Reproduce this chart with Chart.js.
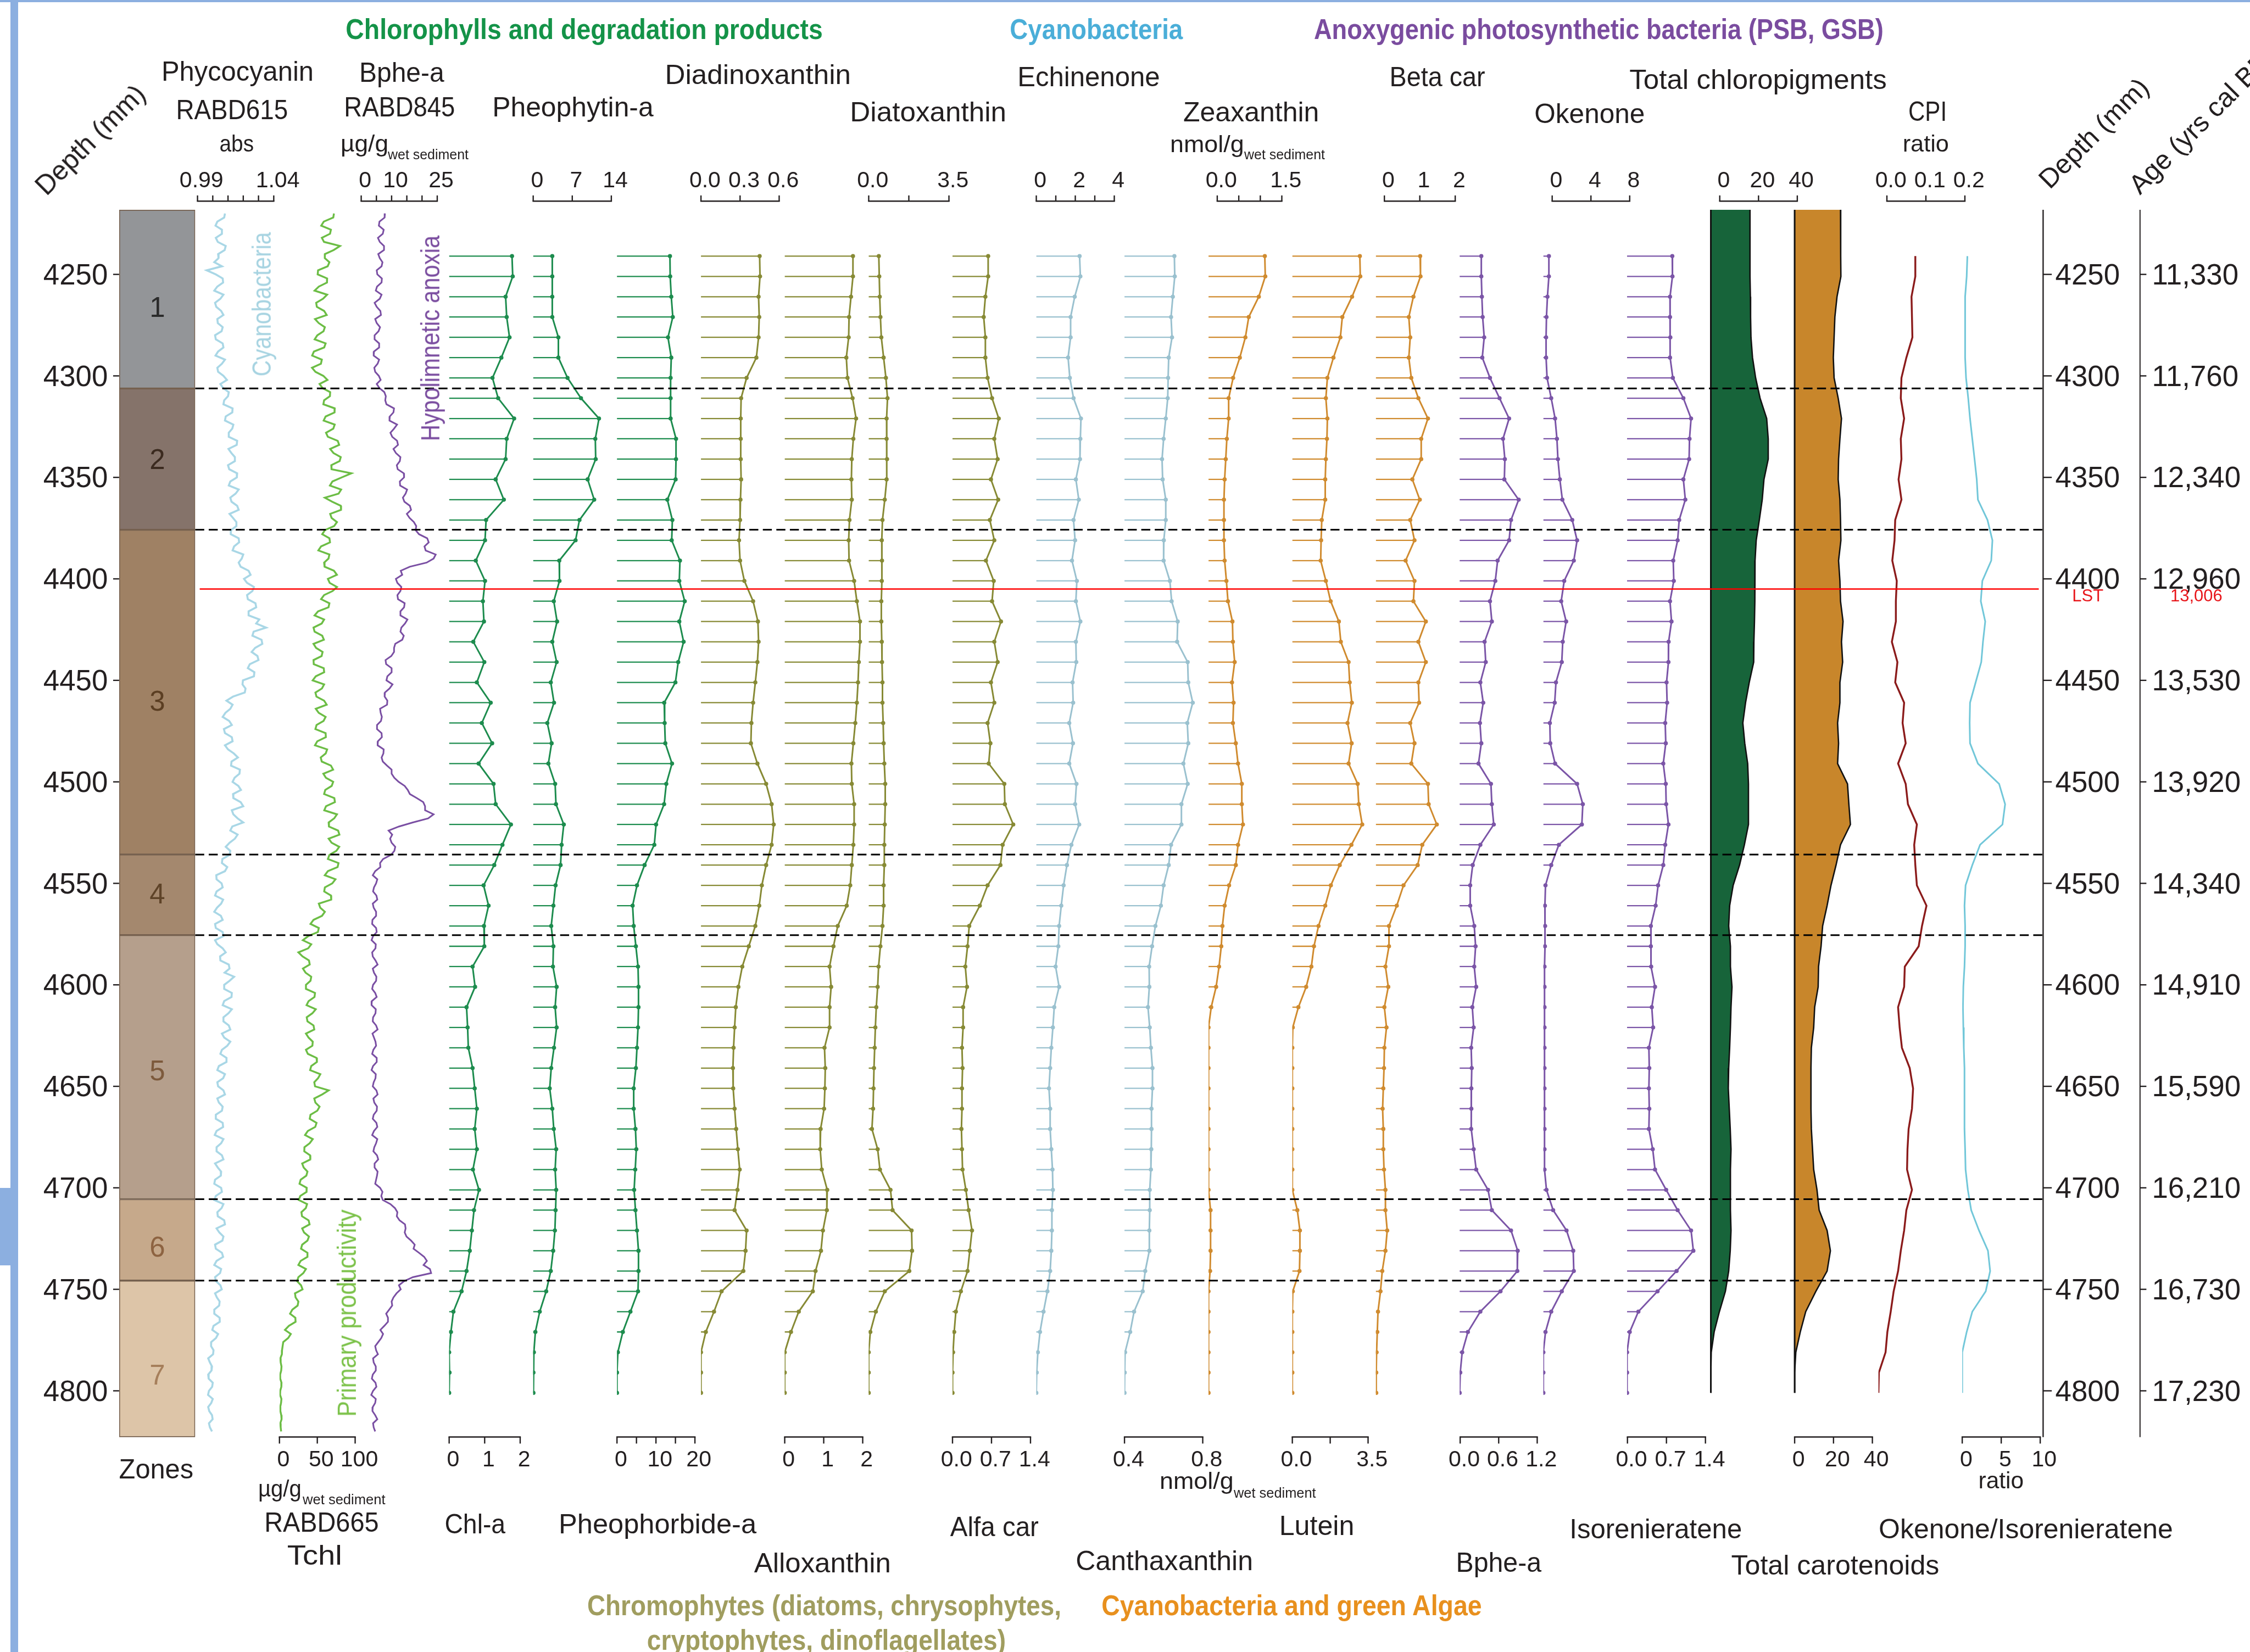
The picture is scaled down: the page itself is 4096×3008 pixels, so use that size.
<!DOCTYPE html>
<html>
<head>
<meta charset="utf-8">
<title>Pigment stratigraphy</title>
<script src="https://cdn.jsdelivr.net/npm/chart.js@4.4.1/dist/chart.umd.min.js"></script>
<style>
  html, body { margin: 0; padding: 0; background: #fff; overflow: hidden; }
  #wrap { position: relative; width: 4096px; height: 3008px; overflow: hidden; background: #fff;
          font-family: "Liberation Sans", Arial, sans-serif; }
  #chart { position: absolute; left: 0; top: 0; }
  .t { position: absolute; white-space: nowrap; line-height: 1; }
  .frame { position: absolute; background: #8cafe0; }
</style>
</head>
<body>
<div id="wrap">
  <div class="frame" style="left:0;top:0;width:4096px;height:4px"></div>
  <div class="frame" style="left:19px;top:0;width:14px;height:3008px"></div>
  <div class="frame" style="left:0;top:2163px;width:21px;height:141px"></div>
  <canvas id="chart" width="4096" height="3008"></canvas>
</div>
<script>
// reference is 4495 px wide, page is 4096
const S = 4096 / 4495;

// ---- data ----
const sampleDepth = [4241,4251,4261,4271,4281,4291,4301,4311,4321,4331,
  4341,4351,4361,4371,4381,4391,4401,4411,4421,4431,
  4441,4451,4461,4471,4481,4491,4501,4511,4521,4531,
  4541,4551,4561,4571,4581,4591,4601,4611,4621,4631,
  4641,4651,4661,4671,4681,4691,4701,4711,4721,4731,
  4741,4751,4761,4771,4781,4791,4801];
const areaDepth = [4218.2].concat(sampleDepth);

// core scanner depth (mm)
const scanDepth = [4220,4222,4224,4226,4228,4230,4232,4234,4236,4238,
  4240,4242,4244,4246,4248,4250,4252,4254,4256,4258,
  4260,4262,4264,4266,4268,4270,4272,4274,4276,4278,
  4280,4282,4284,4286,4288,4290,4292,4294,4296,4298,
  4300,4302,4304,4306,4308,4310,4312,4314,4316,4318,
  4320,4322,4324,4326,4328,4330,4332,4334,4336,4338,
  4340,4342,4344,4346,4348,4350,4352,4354,4356,4358,
  4360,4362,4364,4366,4368,4370,4372,4374,4376,4378,
  4380,4382,4384,4386,4388,4390,4392,4394,4396,4398,
  4400,4402,4404,4406,4408,4410,4412,4414,4416,4418,
  4420,4422,4424,4426,4428,4430,4432,4434,4436,4438,
  4440,4442,4444,4446,4448,4450,4452,4454,4456,4458,
  4460,4462,4464,4466,4468,4470,4472,4474,4476,4478,
  4480,4482,4484,4486,4488,4490,4492,4494,4496,4498,
  4500,4502,4504,4506,4508,4510,4512,4514,4516,4518,
  4520,4522,4524,4526,4528,4530,4532,4534,4536,4538,
  4540,4542,4544,4546,4548,4550,4552,4554,4556,4558,
  4560,4562,4564,4566,4568,4570,4572,4574,4576,4578,
  4580,4582,4584,4586,4588,4590,4592,4594,4596,4598,
  4600,4602,4604,4606,4608,4610,4612,4614,4616,4618,
  4620,4622,4624,4626,4628,4630,4632,4634,4636,4638,
  4640,4642,4644,4646,4648,4650,4652,4654,4656,4658,
  4660,4662,4664,4666,4668,4670,4672,4674,4676,4678,
  4680,4682,4684,4686,4688,4690,4692,4694,4696,4698,
  4700,4702,4704,4706,4708,4710,4712,4714,4716,4718,
  4720,4722,4724,4726,4728,4730,4732,4734,4736,4738,
  4740,4742,4744,4746,4748,4750,4752,4754,4756,4758,
  4760,4762,4764,4766,4768,4770,4772,4774,4776,4778,
  4780,4782,4784,4786,4788,4790,4792,4794,4796,4798,
  4800,4802,4804,4806,4808,4810,4812,4814,4816,4818,
  4820];

const rabd615 = [1.0080,1.0075,1.0030,1.0018,1.0060,1.0060,1.0020,1.0033,1.0085,1.0078,
  1.0035,1.0038,1.0010,1.0060,0.9960,1.0020,1.0065,1.0068,1.0030,1.0010,
  1.0070,1.0050,1.0015,1.0023,1.0055,1.0070,1.0030,1.0033,1.0065,1.0058,
  1.0015,1.0020,1.0065,1.0070,1.0035,1.0018,1.0080,1.0060,1.0030,1.0035,
  1.0070,1.0093,1.0050,1.0068,1.0105,1.0100,1.0075,1.0070,1.0130,1.0128,
  1.0085,1.0080,1.0135,1.0128,1.0105,1.0105,1.0160,1.0157,1.0103,1.0122,
  1.0145,1.0145,1.0100,1.0108,1.0160,1.0158,1.0115,1.0105,1.0170,1.0150,
  1.0115,1.0123,1.0160,1.0170,1.0110,1.0133,1.0155,1.0155,1.0120,1.0118,
  1.0170,1.0173,1.0140,1.0130,1.0200,1.0190,1.0170,1.0183,1.0235,1.0248,
  1.0205,1.0225,1.0270,1.0260,1.0225,1.0230,1.0280,1.0285,1.0235,1.0235,
  1.0305,1.0285,1.0350,1.0268,1.0260,1.0320,1.0325,1.0278,1.0255,1.0293,
  1.0300,1.0243,1.0230,1.0273,1.0270,1.0198,1.0195,1.0215,1.0210,1.0133,
  1.0090,1.0130,1.0115,1.0083,1.0065,1.0108,1.0125,1.0073,1.0080,1.0125,
  1.0130,1.0080,1.0100,1.0138,1.0165,1.0123,1.0120,1.0178,1.0175,1.0143,
  1.0130,1.0168,1.0185,1.0133,1.0135,1.0183,1.0200,1.0125,1.0135,1.0163,
  1.0200,1.0128,1.0115,1.0163,1.0145,1.0110,1.0085,1.0115,1.0110,1.0063,
  1.0060,1.0095,1.0080,1.0023,1.0025,1.0058,1.0065,1.0025,1.0015,1.0068,
  1.0055,1.0028,1.0010,1.0053,1.0065,1.0015,1.0020,1.0065,1.0070,1.0015,
  1.0030,1.0065,1.0085,1.0048,1.0050,1.0105,1.0110,1.0078,1.0140,1.0110,
  1.0075,1.0075,1.0125,1.0123,1.0075,1.0065,1.0125,1.0103,1.0070,1.0070,
  1.0105,1.0115,1.0060,1.0075,1.0115,1.0095,1.0060,1.0050,1.0090,1.0090,
  1.0040,1.0030,1.0080,1.0068,1.0030,1.0035,1.0070,1.0080,1.0030,1.0040,
  1.0065,1.0060,1.0020,1.0020,1.0065,1.0068,1.0025,1.0013,1.0070,1.0055,
  1.0025,1.0025,1.0060,1.0070,1.0015,1.0033,1.0055,1.0053,1.0015,1.0010,
  1.0055,1.0060,1.0020,1.0010,1.0070,1.0058,1.0030,1.0033,1.0075,1.0080,
  1.0025,1.0043,1.0070,1.0063,1.0015,1.0020,1.0060,1.0068,1.0025,1.0010,
  1.0055,1.0048,1.0015,1.0021,1.0050,1.0059,1.0015,1.0027,1.0045,1.0042,
  1.0010,1.0010,1.0045,1.0046,1.0005,0.9997,1.0035,1.0021,0.9990,0.9989,
  1.0005,1.0002,0.9970,0.9981,0.9995,0.9992,0.9970,0.9973,1.0000,0.9996,
  0.9975,0.9969,1.0000,0.9990,0.9970,0.9977,0.9995,0.9999,0.9975,0.9981,
  0.9995];
const rabd665 = [72,71.1,58.5,55.2,68,66.8,56,58.9,80,71.7,
  60,59.9,66,63.7,51,50.5,63,62.8,52,46.4,
  63,57.6,48.5,49.4,59,62.4,47,51.9,60,58.2,
  50,46.5,61,59.1,45.5,43.2,56,54.8,43,47.6,
  58,63.4,53,56.9,67,66.7,59,58,73,72.8,
  61,58.4,73,71.1,61.5,63.9,77,78.9,67,71.4,
  81,79.5,68.5,68.8,95,82.3,70,66.7,81.5,78.1,
  60,69.6,81,81.4,67,68.9,76,72.2,60,56.5,
  66,66.8,55,51.4,66,64.8,59,59.6,72,75.9,
  64,66.4,76,70.2,59,55,66,64.8,51,46.4,
  59,55.8,45,46.4,56.5,58.7,45,48.4,57,55.7,
  45,45.3,58.5,59.1,48,43.9,59,56.1,47.5,48.9,
  59,62.4,48,51.9,61,58.2,49,47.5,61,61.3,
  50,46.9,63,61.1,54.5,55.9,68,70.9,58,61.4,
  71,69,60.5,59,72.5,73.3,61.5,59.2,76,72.3,
  65,65.4,77.5,79.2,65,68.9,79,75.2,66,64,
  78,76.8,64,59.9,74,69.8,60,59.1,68,68.4,
  52,53.9,60,56.2,45,41,52,50.8,38,30.9,
  42,38,25,30.5,39,40,31,34.5,42,41,
  35,35,47,46.3,38.5,35.8,48,43.5,36,37,
  45,46,35,38.5,44,43.5,35,37.5,49,49.5,
  42,40.5,54,51,46,47,65,56.5,46,47.5,
  53,50,41,40,49,47.3,37.5,33.8,44,40,
  33,32.8,40.5,40.8,30,32,37,35.5,28,26.5,
  36,35.8,27.5,25.5,36.5,34.8,29,29.8,38.5,39.8,
  30,32.5,39,37,30,28.5,37,37,28,25,
  35,31.5,25,23.3,28.5,30.5,20.5,21.3,25,24,
  17,14,21,21.3,12.5,7.3,15,11.5,5,4.2,
  3.4,3.2,1.2,1.6,2.7,2.3,0.9,1.0,2.7,2.5,
  1.0,0.8,2.6,2.1,1.0,1.2,2.4,2.8,1.1,1.6,
  2.2];
const rabd845 = [7.8,7.7,6.0,5.8,7.4,7.1,5.5,6.1,7.5,7.5,
  5.6,6.1,7.0,6.7,5.1,5.3,6.8,6.7,5.2,4.8,
  6.7,6.1,4.4,5.1,6.3,6.5,4.6,5.1,6.2,5.7,
  4.4,4.4,5.9,5.9,4.2,4.1,5.9,5.4,4.3,4.6,
  5.8,6.4,5.1,6.0,7.6,8.1,7.9,8.3,10.8,10.6,
  9.4,9.3,11.8,10.8,9.6,10.2,11.8,12.1,10.6,11.4,
  12.9,12.7,11.7,12.0,14.0,14.1,12.7,12.8,15.1,14.6,
  13.7,14.2,16.0,16.4,15.0,15.9,17.3,18.1,17.9,19.0,
  21.7,22.2,20.8,21.2,24.5,23.8,21.5,16.0,13.0,13.5,
  11.4,11.9,13.2,12.9,11.9,12.1,14.3,14.1,12.9,12.9,
  15.2,14.4,13.2,12.9,14.0,13.5,11.2,10.8,10.8,9.9,
  8.0,8.2,10.0,10.0,8.6,8.3,10.3,9.3,7.8,7.7,
  8.6,8.5,6.2,6.4,6.8,6.5,5.2,5.2,6.7,6.8,
  5.5,5.4,7.4,7.3,6.7,7.1,8.5,10.0,10.0,10.9,
  12.3,14.3,15.3,16.0,18.3,20.4,21.0,21.0,23.8,22.0,
  17.0,12.4,9.0,10.2,9.5,10.0,11.2,10.9,9.8,7.2,
  6.2,6.3,4.6,3.8,5.3,4.9,4.2,3.9,5.0,5.3,
  3.8,4.1,4.9,4.9,3.7,3.6,4.9,5.1,3.9,3.4,
  4.8,4.7,3.6,3.8,4.7,5.4,3.8,4.2,5.0,4.9,
  3.9,3.6,4.6,5.1,3.5,3.4,4.8,4.7,3.9,3.8,
  4.9,5.4,3.7,4.2,4.7,4.9,4.0,3.6,5.1,5.1,
  3.9,3.4,4.8,4.7,4.1,3.8,5.0,5.4,4.0,4.3,
  5.2,5.1,4.1,3.8,5.0,5.3,4.2,3.6,5.3,4.9,
  4.3,4.0,5.2,5.6,4.4,4.4,5.4,5.2,4.9,4.6,
  6.2,7.0,6.6,7.1,9.6,11.1,11.9,11.7,12.6,14.4,
  14.6,14.3,14.9,16.4,17.6,17.2,19.0,20.7,21.6,20.5,
  22.6,23.0,17.0,14.1,12.4,13.0,11.6,10.6,10.0,10.2,
  9.2,8.2,8.8,8.8,7.6,6.3,7.2,6.6,5.6,4.6,
  4.9,5.5,3.9,4.1,4.8,4.8,3.8,3.5,4.7,5.0,
  3.9,3.3,4.8,4.6,3.8,3.7,4.6,5.3,3.9,4.1,
  4.6];

// HPLC pigments, one value per sample depth
const chlA = [1.77,1.79,1.59,1.62,1.70,1.47,1.22,1.38,1.83,1.62,
  1.59,1.31,1.54,1.04,1.01,0.75,1.01,0.95,0.98,0.68,
  0.99,0.78,1.17,0.92,1.21,0.83,1.25,1.31,1.74,1.50,
  1.27,0.97,1.11,0.98,0.99,0.66,0.73,0.49,0.52,0.54,
  0.66,0.72,0.78,0.72,0.78,0.67,0.84,0.70,0.64,0.58,
  0.49,0.35,0.12,0.05,0.00,0.01,0.00];
const pheophytin = [3.42,3.42,3.42,3.42,4.51,4.51,6.15,8.56,11.79,11.13,
  11.20,9.76,10.93,8.29,7.59,4.67,4.71,3.69,4.28,3.42,
  4.20,3.15,3.73,2.53,3.30,2.72,3.93,4.08,5.48,5.09,
  4.90,4.01,3.62,3.23,3.62,3.54,4.20,3.93,4.20,3.73,
  3.23,2.96,3.42,3.69,4.12,3.93,4.12,4.01,3.89,3.58,
  3.15,2.33,1.17,0.39,0.12,0.04,0.04];
const pheophorbide = [13.59,13.65,13.93,14.32,13.09,13.93,13.76,13.76,13.76,15.15,
  15.15,15.04,12.92,14.21,14.04,16.16,15.99,17.38,15.99,17.10,
  15.71,14.99,12.12,12.23,12.40,14.12,12.65,12.09,10.03,9.58,
  7.08,5.13,4.01,4.29,4.85,5.40,5.52,5.52,5.40,5.13,
  4.85,4.29,4.29,4.74,4.96,4.68,4.40,4.74,5.13,5.52,
  5.52,5.40,3.45,1.50,0.22,0.00,0.00];
const diadino = [0.450,0.453,0.442,0.447,0.442,0.425,0.350,0.308,0.305,0.305,
  0.305,0.308,0.303,0.300,0.292,0.300,0.333,0.400,0.437,0.442,
  0.433,0.417,0.400,0.387,0.383,0.433,0.500,0.542,0.558,0.542,
  0.500,0.467,0.447,0.417,0.367,0.317,0.287,0.267,0.258,0.250,
  0.245,0.247,0.258,0.270,0.283,0.297,0.280,0.258,0.350,0.342,
  0.325,0.158,0.100,0.037,0.000,0.000,0.000];
const allox = [1.75,1.75,1.70,1.65,1.64,1.58,1.61,1.74,1.83,1.76,
  1.72,1.71,1.72,1.66,1.64,1.65,1.78,1.85,1.93,1.93,
  1.90,1.88,1.85,1.81,1.76,1.71,1.72,1.78,1.78,1.76,
  1.72,1.68,1.59,1.36,1.25,1.15,1.19,1.15,1.15,1.02,
  1.04,1.03,1.01,0.92,0.91,0.95,1.09,1.08,0.98,0.93,
  0.79,0.72,0.36,0.16,0.00,0.00,0.00];
const diato = [0.44,0.46,0.48,0.51,0.55,0.65,0.75,0.82,0.78,0.78,
  0.80,0.78,0.70,0.60,0.57,0.58,0.57,0.55,0.55,0.57,
  0.58,0.60,0.60,0.63,0.65,0.68,0.72,0.72,0.70,0.68,
  0.68,0.65,0.65,0.60,0.51,0.43,0.39,0.33,0.29,0.26,
  0.23,0.21,0.19,0.14,0.39,0.49,0.95,1.04,1.87,1.89,
  1.77,0.70,0.31,0.07,0.00,0.00,0.00];
const alfaCar = [0.64,0.64,0.59,0.56,0.59,0.59,0.63,0.71,0.83,0.75,
  0.81,0.69,0.82,0.67,0.75,0.60,0.74,0.71,0.87,0.75,
  0.81,0.69,0.75,0.63,0.68,0.65,0.93,0.94,1.09,0.90,
  0.86,0.63,0.49,0.30,0.27,0.23,0.26,0.19,0.19,0.17,
  0.18,0.17,0.17,0.16,0.17,0.18,0.24,0.29,0.35,0.31,
  0.27,0.15,0.06,0.03,0.01,0.00,0.00];
const echin = [2.22,2.26,1.97,1.76,1.76,1.63,1.72,1.91,2.29,2.26,
  2.24,2.03,2.18,1.91,1.99,1.83,2.08,2.03,2.26,2.03,
  2.05,1.86,1.89,1.69,1.88,1.69,2.06,1.99,2.20,1.80,
  1.57,1.40,1.28,1.17,1.13,0.99,1.17,0.92,0.85,0.77,
  0.71,0.65,0.71,0.71,0.77,0.83,0.85,0.80,0.80,0.77,
  0.71,0.57,0.37,0.19,0.08,0.02,0.00];
const cantha = [0.655,0.657,0.647,0.638,0.643,0.626,0.623,0.621,0.611,0.600,
  0.592,0.595,0.611,0.611,0.601,0.600,0.632,0.641,0.672,0.669,
  0.723,0.726,0.749,0.721,0.726,0.701,0.723,0.691,0.691,0.638,
  0.626,0.600,0.586,0.558,0.541,0.526,0.527,0.520,0.529,0.535,
  0.543,0.543,0.538,0.538,0.537,0.535,0.529,0.529,0.527,0.527,
  0.506,0.493,0.449,0.429,0.403,0.401,0.400];
const zeax = [1.307,1.318,1.168,0.934,0.856,0.726,0.571,0.467,0.467,0.425,
  0.400,0.374,0.358,0.358,0.358,0.374,0.415,0.451,0.555,0.566,
  0.607,0.545,0.581,0.566,0.633,0.685,0.773,0.773,0.799,0.685,
  0.633,0.477,0.374,0.322,0.296,0.244,0.176,0.062,0.000,0.000,
  0.000,0.000,0.000,0.000,0.000,0.000,0.000,0.047,0.047,0.047,
  0.036,0.000,0.000,0.000,0.000,0.000,0.000];
const lutein = [3.12,3.14,2.76,2.31,2.22,1.90,1.62,1.55,1.62,1.60,
  1.55,1.52,1.52,1.36,1.33,1.31,1.55,1.77,2.15,2.24,
  2.60,2.65,2.75,2.55,2.74,2.60,3.02,3.07,3.23,2.73,
  2.19,1.78,1.52,1.21,1.00,0.88,0.64,0.28,0.02,0.00,
  0.00,0.00,0.00,0.00,0.00,0.00,0.00,0.23,0.35,0.35,
  0.33,0.02,0.00,0.00,0.00,0.00,0.00];
const betaCar = [1.25,1.26,1.06,0.93,0.97,0.93,1.00,1.20,1.47,1.28,
  1.28,1.03,1.24,0.97,1.09,0.84,1.09,1.06,1.41,1.20,
  1.41,1.20,1.22,0.97,1.09,1.00,1.47,1.49,1.72,1.31,
  1.18,0.78,0.59,0.37,0.37,0.27,0.35,0.24,0.30,0.24,
  0.23,0.21,0.19,0.21,0.21,0.23,0.27,0.27,0.32,0.27,
  0.18,0.13,0.06,0.04,0.02,0.01,0.01];
const bpheA = [0.337,0.337,0.346,0.358,0.382,0.352,0.472,0.621,0.770,0.675,
  0.704,0.696,0.919,0.800,0.770,0.591,0.555,0.472,0.501,0.388,
  0.406,0.322,0.367,0.316,0.337,0.293,0.487,0.501,0.531,0.322,
  0.203,0.164,0.164,0.227,0.248,0.227,0.257,0.197,0.218,0.179,
  0.188,0.182,0.182,0.179,0.218,0.257,0.442,0.501,0.800,0.904,
  0.898,0.636,0.322,0.128,0.039,0.009,0.000];
const okenone = [0.57,0.57,0.42,0.32,0.28,0.28,0.38,0.81,1.21,1.40,
  1.50,1.70,1.96,2.98,3.48,3.14,2.15,1.84,2.35,2.00,
  1.90,1.30,1.17,0.67,0.71,1.21,3.48,4.07,3.97,1.60,
  0.81,0.22,0.16,0.18,0.16,0.12,0.12,0.12,0.12,0.12,
  0.12,0.12,0.12,0.12,0.12,0.12,0.32,1.01,2.39,3.08,
  3.14,1.90,0.81,0.22,0.00,0.00,0.00];
const isorenie = [0.812,0.815,0.771,0.771,0.777,0.771,0.822,1.011,1.149,1.121,
  1.114,1.011,1.046,0.936,0.908,0.829,0.839,0.771,0.798,0.746,
  0.743,0.709,0.719,0.685,0.695,0.650,0.695,0.702,0.743,0.685,
  0.650,0.557,0.513,0.427,0.427,0.433,0.502,0.444,0.468,0.392,
  0.399,0.392,0.399,0.392,0.461,0.502,0.702,0.908,1.149,1.190,
  0.889,0.547,0.203,0.048,0.000,0.000,0.000];
// sums, first value at the top of the core section
const totalChloro = [20.2,
  20.2,20.2,20.4,20.5,20.7,21.5,23.1,25.4,28.8,29.6,
  29.6,27.4,26.5,25.0,23.4,22.8,22.8,22.6,22.5,22.2,
  22.1,19.8,17.9,16.5,17.5,19.0,19.4,19.4,19.4,17.3,
  14.8,11.5,9.7,9.2,10.1,10.1,10.9,10.4,10.1,9.7,
  9.2,9.0,9.5,10.0,10.4,10.1,10.1,10.1,10.4,10.0,
  9.2,7.5,4.4,1.7,0.2,0.0,0.0];
const totalCarot = [23.6,
  23.7,23.8,21.8,20.7,20.3,19.9,20.3,22.4,24.1,23.3,
  22.6,22.4,23.3,23.6,23.8,22.6,23.3,23.6,24.9,24.1,
  24.7,23.3,23.3,22.1,22.6,22.1,27.2,27.9,28.7,23.6,
  21.3,18.7,16.7,14.4,13.6,12.3,12.1,10.3,9.8,8.6,
  8.4,8.4,8.4,8.6,9.2,9.8,11.5,12.6,16.7,18.4,
  16.7,10.9,5.7,2.9,0.6,0.0,0.0];
const cpi = [0.0946,0.0946,0.0848,0.0860,0.0871,0.0716,0.0590,0.0573,0.0659,0.0573,
  0.0590,0.0516,0.0590,0.0430,0.0413,0.0355,0.0470,0.0447,0.0447,0.0344,
  0.0487,0.0430,0.0659,0.0619,0.0699,0.0504,0.0699,0.0756,0.0986,0.0917,
  0.0946,0.0986,0.1232,0.1117,0.1032,0.0676,0.0659,0.0504,0.0544,0.0602,
  0.0802,0.0888,0.0860,0.0774,0.0745,0.0734,0.0860,0.0716,0.0659,0.0573,
  0.0504,0.0390,0.0315,0.0229,0.0183,0.0011,0.0000];
const okIsoRatio = [0.66,0.57,0.37,0.37,0.37,0.37,0.49,0.77,1.00,1.29,
  1.58,1.86,2.01,3.24,3.87,3.72,2.58,2.38,2.95,2.66,
  2.44,1.72,1.00,0.95,1.00,2.01,4.73,5.50,5.16,2.29,
  1.29,0.43,0.29,0.37,0.37,0.29,0.14,0.09,0.14,0.20,
  0.29,0.29,0.29,0.29,0.37,0.43,0.72,1.15,2.15,3.30,
  3.58,3.01,1.29,0.57,0.00,0.00,0.00];

const zoneNames = ['1','2','3','4','5','6','7'];
const zoneBounds = [4218.2,4306.2,4375.8,4535.8,4575.5,4705.6,4745.7,4822.8];
const zoneLabelDepth = [4266,4341,4460,4555,4642,4729,4792];
const lstDepth = 4405;
const depthTicks = [4250,4300,4350,4400,4450,4500,4550,4600,4650,4700,4750,4800];
const ageLabels = ['11,330','11,760','12,340','12,960','13,530','13,920','14,340','14,910','15,590','16,210','16,730','17,230'];

// ---- layout (reference pixels) ----
const PLOT_TOP = 419.3, PLOT_BOTTOM = 2871.6;
const trackBox = {
  xz: [238, 390],
  r615: [394.6, 546.9], r665: [558.3, 709.5], r845: [721.6, 873.5],
  chla: [897.3, 1039.2], phy: [1065.2, 1221.3], pho: [1232.6, 1388.3], dia: [1400.4, 1556.6],
  allo: [1567.7, 1723.5], diat: [1735.5, 1895.8], alfa: [1902.9, 2058.7], echi: [2070.3, 2226.1],
  cant: [2246.5, 2402.8], zea: [2414.4, 2543.4], lut: [2581.8, 2733.1], beta: [2748.7, 2890.2],
  bphe: [2916.1, 3070.0], oken: [3083.3, 3238.2], isor: [3250.5, 3406.3],
  tchl: [3417.9, 3572.8], tcar: [3585.3, 3740.6], cpi: [3752.7, 3908.5], ratio: [3920.1, 4075.9]
};
const trackRange = {
  r615: [0.99, 1.04], r665: [0, 100], r845: [0, 25],
  chla: [0, 2], phy: [0, 14], pho: [0, 20], dia: [0, 0.6],
  allo: [0, 2], diat: [0, 3.5], alfa: [0, 1.4], echi: [0, 4],
  cant: [0.4, 0.8], zea: [0, 1.5], lut: [0, 3.5], beta: [0, 2],
  bphe: [0, 1.2], oken: [0, 8], isor: [0, 1.4],
  tchl: [0, 40], tcar: [0, 40], cpi: [0, 0.2], ratio: [0, 10]
};
// id, side, tick values, labelled ticks, bar offset
const axisSpec = [
  ['r615', 'top', [0.99, 1.00, 1.01, 1.02, 1.03, 1.04], [[0.99, '0.99'], [1.04, '1.04']], 0],
  ['r665', 'bottom', [0, 50, 100], [[0, '0'], [50, '50'], [100, '100']], 0],
  ['r845', 'top', [0, 5, 10, 15, 20, 25], [[0, '0'], [10, '10'], [25, '25']], 0],
  ['chla', 'bottom', [0, 1, 2], [[0, '0'], [1, '1'], [2, '2']], 0],
  ['phy', 'top', [0, 7, 14], [[0, '0'], [7, '7'], [14, '14']], 0],
  ['pho', 'bottom', [0, 5, 10, 15, 20], [[0, '0'], [10, '10'], [20, '20']], 0],
  ['dia', 'top', [0, 0.3, 0.6], [[0, '0.0'], [0.3, '0.3'], [0.6, '0.6']], 0],
  ['allo', 'bottom', [0, 1, 2], [[0, '0'], [1, '1'], [2, '2']], 0],
  ['diat', 'top', [0, 1.75, 3.5], [[0, '0.0'], [3.5, '3.5']], 0],
  ['alfa', 'bottom', [0, 0.7, 1.4], [[0, '0.0'], [0.7, '0.7'], [1.4, '1.4']], 0],
  ['echi', 'top', [0, 1, 2, 3, 4], [[0, '0'], [2, '2'], [4, '4']], 0],
  ['cant', 'bottom', [0.4, 0.8], [[0.4, '0.4'], [0.8, '0.8']], 0],
  ['zea', 'top', [0, 0.5, 1, 1.5], [[0, '0.0'], [1.5, '1.5']], 17.4],
  ['lut', 'bottom', [0, 1.75, 3.5], [[0, '0.0'], [3.5, '3.5']], 0],
  ['beta', 'top', [0, 1, 2], [[0, '0'], [1, '1'], [2, '2']], 17],
  ['bphe', 'bottom', [0, 0.6, 1.2], [[0, '0.0'], [0.6, '0.6'], [1.2, '1.2']], 1],
  ['oken', 'top', [0, 4, 8], [[0, '0'], [4, '4'], [8, '8']], 17.6],
  ['isor', 'bottom', [0, 0.7, 1.4], [[0, '0.0'], [0.7, '0.7'], [1.4, '1.4']], 0.8],
  ['tchl', 'top', [0, 20, 40], [[0, '0'], [20, '20'], [40, '40']], 17.8],
  ['tcar', 'bottom', [0, 20, 40], [[0, '0'], [20, '20'], [40, '40']], 0],
  ['cpi', 'top', [0, 0.1, 0.2], [[0, '0.0'], [0.1, '0.1'], [0.2, '0.2']], 16.9],
  ['ratio', 'bottom', [0, 5, 10], [[0, '0'], [5, '5'], [10, '10']], 0]
];

const INK = '#231f20';
const GREEN = '#1d8c4e', OLIVE = '#878a35', STEEL = '#9ac1cf', ORANGE = '#d08b2f', PURPLE = '#7b55a7';
const zoneColors = ['#939598', '#85736a', '#9f8164', '#a4886e', '#b59f8c', '#c6a98b', '#ddc5a8'];
const zoneNumColors = ['#2b2b2b', '#3b2a1f', '#5b3e22', '#5e4328', '#7d5a3c', '#8d6341', '#a67f5b'];

// ---- datasets ----
const datasets = [];

datasets.push({
  type: 'bar', xAxisID: 'xz', yAxisID: 'y', indexAxis: 'x',
  data: zoneNames.map((z, i) => ({ x: 'zone', y: [zoneBounds[i], zoneBounds[i + 1]] })),
  backgroundColor: zoneColors, borderColor: '#76614f', borderWidth: 2, borderSkipped: false,
  grouped: false, barPercentage: 1, categoryPercentage: 1, order: 10
});

[['r615', rabd615, '#a9d7e6', 3.6], ['r665', rabd665, '#6cbd45', 3.4], ['r845', rabd845, '#7a4fa3', 3.0]].forEach(([id, vals, c, w]) => {
  datasets.push({
    type: 'line', indexAxis: 'y', xAxisID: id, yAxisID: 'y',
    data: scanDepth.map((d, i) => ({ x: vals[i], y: d })),
    borderColor: c, borderWidth: w, borderJoinStyle: 'miter', pointRadius: 0, tension: 0, fill: false, order: 1
  });
});

const lollipops = [
  ['chla', chlA, GREEN], ['phy', pheophytin, GREEN], ['pho', pheophorbide, GREEN],
  ['dia', diadino, OLIVE], ['allo', allox, OLIVE], ['diat', diato, OLIVE], ['alfa', alfaCar, OLIVE],
  ['echi', echin, STEEL], ['cant', cantha, STEEL],
  ['zea', zeax, ORANGE], ['lut', lutein, ORANGE], ['beta', betaCar, ORANGE],
  ['bphe', bpheA, PURPLE], ['oken', okenone, PURPLE], ['isor', isorenie, PURPLE]
];
lollipops.forEach(([id, vals, c]) => {
  const base = trackRange[id][0];
  datasets.push({
    type: 'bar', indexAxis: 'y', xAxisID: id, yAxisID: 'y',
    data: sampleDepth.map((d, i) => ({ x: [base, vals[i]], y: d })),
    backgroundColor: c, barThickness: 1.6, grouped: false, order: 3
  });
  datasets.push({
    type: 'line', indexAxis: 'y', xAxisID: id, yAxisID: 'y',
    data: sampleDepth.map((d, i) => ({ x: vals[i], y: d })),
    borderColor: c, backgroundColor: c, borderWidth: 3, pointRadius: 3.8, pointBorderWidth: 0,
    tension: 0, fill: false, order: 1
  });
});

[['tchl', totalChloro, '#17643a'], ['tcar', totalCarot, '#c8862b']].forEach(([id, vals, c]) => {
  datasets.push({
    type: 'line', indexAxis: 'y', xAxisID: id, yAxisID: 'y',
    data: areaDepth.map((d, i) => ({ x: vals[i], y: d })),
    borderColor: '#111', borderWidth: 2.6, backgroundColor: c, fill: { value: 0 },
    pointRadius: 0, tension: 0, order: 2
  });
});

[['cpi', cpi, '#8b1b1b', 3.4], ['ratio', okIsoRatio, '#72c7d9', 3]].forEach(([id, vals, c, w]) => {
  datasets.push({
    type: 'line', indexAxis: 'y', xAxisID: id, yAxisID: 'y',
    data: sampleDepth.map((d, i) => ({ x: vals[i], y: d })),
    borderColor: c, borderWidth: w, pointRadius: 0, tension: 0, fill: false, order: 1
  });
});

// ---- scales ----
const scales = {
  y: { type: 'linear', min: zoneBounds[0], max: zoneBounds[zoneBounds.length - 1], reverse: true,
       offset: false, grace: 0, display: false },
  xz: { type: 'category', axis: 'x', labels: ['zone'], offset: true, display: false }
};
for (const id in trackRange) {
  scales[id] = { type: 'linear', axis: 'x', min: trackRange[id][0], max: trackRange[id][1], offset: false, display: false };
}

// tracks sit side by side: move each x scale to its own strip
const decor = {
  id: 'decor',
  afterLayout(chart) {
    for (const id in trackBox) {
      const sc = chart.scales[id];
      const [a, b] = trackBox[id];
      sc.left = a * S; sc.right = b * S; sc.width = (b - a) * S;
      sc.configure();
    }
  },
  afterDatasetsDraw(chart) {
    const ctx = chart.ctx;
    const y = chart.scales.y;
    const seg = (x1, y1, x2, y2) => { ctx.beginPath(); ctx.moveTo(x1, y1); ctx.lineTo(x2, y2); ctx.stroke(); };
    ctx.save();
    ctx.lineCap = 'butt';

    // left edge of the filled sums
    ctx.strokeStyle = '#111'; ctx.lineWidth = 3;
    for (const id of ['tchl', 'tcar']) {
      const px = chart.scales[id].getPixelForValue(0);
      seg(px, y.getPixelForValue(areaDepth[0]), px, y.getPixelForValue(areaDepth[areaDepth.length - 1]));
    }

    // zone boundaries
    ctx.strokeStyle = '#000'; ctx.lineWidth = 3; ctx.setLineDash([18 * S, 9 * S]);
    for (const d of zoneBounds.slice(1, -1)) {
      const py = y.getPixelForValue(d);
      seg(390 * S, py, 4081.7 * S, py);
    }
    ctx.setLineDash([]);

    // LST
    ctx.strokeStyle = '#ff0000'; ctx.lineWidth = 2.4;
    const ly = y.getPixelForValue(lstDepth);
    seg(399 * S, ly, 4073 * S, ly);

    // small scale bars above / below each track
    ctx.strokeStyle = INK; ctx.lineWidth = 2.4;
    for (const [id, side, ticks, , shift] of axisSpec) {
      const sc = chart.scales[id];
      const off = shift * S;
      const x0 = sc.getPixelForValue(ticks[0]) + off;
      const x1 = sc.getPixelForValue(ticks[ticks.length - 1]) + off;
      const base = (side === 'top' ? 402 : 2871.4) * S;
      const tip = (side === 'top' ? 390.5 : 2884.5) * S;
      seg(x0 - 1.2, base, x1 + 1.2, base);
      for (const t of ticks) {
        const px = sc.getPixelForValue(t) + off;
        seg(px, base, px, tip);
      }
    }

    // depth axes
    ctx.lineWidth = 2.4;
    seg(4081.7 * S, PLOT_TOP * S, 4081.7 * S, PLOT_BOTTOM * S);
    ctx.lineWidth = 2;
    seg(4275.3 * S, PLOT_TOP * S, 4275.3 * S, PLOT_BOTTOM * S);
    ctx.lineWidth = 2.4;
    for (const d of depthTicks) {
      const py = y.getPixelForValue(d);
      seg(226 * S, py, 238 * S, py);
      seg(4081.7 * S, py, 4099 * S, py);
      seg(4275.3 * S, py, 4288 * S, py);
    }
    ctx.restore();
  }
};

const chart = new Chart(document.getElementById('chart'), {
  type: 'line',
  data: { datasets },
  options: {
    animation: false, responsive: false, devicePixelRatio: 1, events: [],
    layout: { padding: { top: PLOT_TOP * S, bottom: 3008 - PLOT_BOTTOM * S, left: 0, right: 0 } },
    plugins: { legend: { display: false }, tooltip: { enabled: false } },
    scales
  },
  plugins: [decor]
});

// ---- text (reference pixel coordinates, y = baseline) ----
const wrap = document.getElementById('wrap');
function put(s, o) {
  const el = document.createElement('div');
  el.className = 't';
  el.textContent = s;
  el.style.fontSize = (o.size * S) + 'px';
  el.style.color = o.color || INK;
  if (o.bold) el.style.fontWeight = 'bold';
  wrap.appendChild(el);
  return el;
}
function txt(s, x, y, o = {}) {
  o.size = o.size || 54;
  const el = put(s, o);
  const w = el.offsetWidth;
  const k = o.w ? (o.w * S) / w : 1;
  const align = o.align || 'center';
  const X = x * S;
  el.style.left = (align === 'center' ? X - w / 2 : align === 'right' ? X - w : X) + 'px';
  el.style.top = (y * S - o.size * S * 0.8465) + 'px';
  el.style.transformOrigin = align === 'center' ? '50% 50%' : align === 'right' ? '100% 50%' : '0 50%';
  el.style.transform = 'scaleX(' + k + ')';
}
function rot(s, cx, cy, deg, o = {}) {
  o.size = o.size || 54;
  const el = put(s, o);
  const k = o.w ? (o.w * S) / el.offsetWidth : 1;
  el.style.left = cx * S + 'px';
  el.style.top = cy * S + 'px';
  el.style.transform = 'translate(-50%,-50%) rotate(' + deg + 'deg) scaleX(' + k + ')';
}

const ys = chart.scales.y;
const yf = d => ys.getPixelForValue(d) / S;

// group headings
txt('Chlorophylls and degradation products', 1167.5, 78, { size: 56, bold: true, color: '#149348', w: 953 });
txt('Cyanobacteria', 2190, 78, { size: 56, bold: true, color: '#4aaed8', w: 346 });
txt('Anoxygenic photosynthetic bacteria (PSB, GSB)', 3193.8, 78, { size: 56, bold: true, color: '#7a4c9f', w: 1138 });
txt('Chromophytes (diatoms, chrysophytes,', 1646.5, 3228, { size: 56, bold: true, color: '#a09d5f', w: 947 });
txt('cryptophytes, dinoflagellates)', 1651.5, 3297, { size: 56, bold: true, color: '#a09d5f', w: 717 });
txt('Cyanobacteria and green Algae', 2581, 3228, { size: 56, bold: true, color: '#e8901e', w: 760 });

// top names
txt('Phycocyanin', 475, 161, { w: 304 });
txt('Bphe-a', 803, 163, { w: 170 });
txt('Diadinoxanthin', 1513.5, 167, { w: 371 });
txt('Echinenone', 2175.5, 172, { w: 285 });
txt('Beta car', 2871.5, 172, { w: 191 });
txt('Total chloropigments', 3512.8, 177, { w: 514 });
txt('RABD615', 464, 238, { w: 224 });
txt('RABD845', 798, 232, { w: 222 });
txt('Pheophytin-a', 1145, 232, { w: 322 });
txt('Diatoxanthin', 1854, 242, { w: 312 });
txt('Zeaxanthin', 2499.5, 242, { w: 271 });
txt('Okenone', 3175.5, 245.5, { w: 221 });
txt('CPI', 3850.5, 241, { w: 77 });

// units
txt('abs', 472.5, 303, { size: 46, w: 69 });
txt('\u00b5g/g', 680, 303, { size: 46, align: 'left', w: 95 });
txt('wet sediment', 775, 319, { size: 28, align: 'left', w: 161 });
txt('nmol/g', 2338, 304.5, { size: 46, align: 'left', w: 148 });
txt('wet sediment', 2486, 319, { size: 28, align: 'left', w: 161 });
txt('ratio', 3847.5, 303, { size: 46, w: 93 });
txt('\u00b5g/g', 516, 2991, { size: 46, align: 'left', w: 86 });
txt('wet sediment', 605, 3006, { size: 28, align: 'left', w: 165 });
txt('nmol/g', 2317, 2975.5, { size: 46, align: 'left', w: 148 });
txt('wet sediment', 2465, 2993, { size: 28, align: 'left', w: 164 });
txt('ratio', 3997.5, 2975, { size: 46, w: 91 });

// bottom names
txt('Zones', 312, 2954, { w: 149 });
txt('RABD665', 642, 3060, { w: 229 });
txt('Tchl', 628, 3126, { w: 109 });
txt('Chl-a', 949, 3063.6, { w: 122 });
txt('Pheophorbide-a', 1313.5, 3063.6, { w: 395 });
txt('Alloxanthin', 1643, 3142, { w: 274 });
txt('Alfa car', 1986.5, 3069, { w: 177 });
txt('Canthaxanthin', 2326, 3137, { w: 354 });
txt('Lutein', 2631, 3067, { w: 150 });
txt('Bphe-a', 2994.5, 3140, { w: 171 });
txt('Isorenieratene', 3308, 3073, { w: 344 });
txt('Total carotenoids', 3667, 3146, { w: 416 });
txt('Okenone/Isorenieratene', 4047, 3073, { w: 588 });

// tick labels of the scale bars
axisSpec.forEach(([id, side, , labels, shift]) => {
  const sc = chart.scales[id];
  labels.forEach(([v, s]) => {
    txt(s, sc.getPixelForValue(v) / S + shift + 8, side === 'top' ? 375 : 2931, { size: 45 });
  });
});

// depth and age
depthTicks.forEach((d, i) => {
  const yy = yf(d) + 0.358 * 58;
  txt(String(d), 216, yy, { size: 58, align: 'right' });
  txt(String(d), 4106, yy, { size: 58, align: 'left' });
  txt(ageLabels[i], 4299, yy, { size: 58, align: 'left' });
});
txt('LST', 4171, yf(lstDepth) + 25, { size: 34, color: '#e8161b' });
txt('13,006', 4388, yf(lstDepth) + 25, { size: 34, color: '#e8161b' });

// zones
zoneNames.forEach((z, i) => txt(z, 314, yf(zoneLabelDepth[i]) + 0.358 * 56, { size: 56, color: zoneNumColors[i] }));

// slanted and vertical captions
rot('Depth (mm)', 180, 279, -45, { size: 54 });
rot('Depth (mm)', 4182, 266, -45, { size: 54 });
rot('Age (yrs cal BP)', 4400, 239, -45, { size: 54 });
rot('Cyanobacteria', 522, 608, -90, { size: 53, color: '#a6d3e1', w: 288 });
rot('Hypolimnetic anoxia', 859, 676, -90, { size: 53, color: '#7a4c9f', w: 411 });
rot('Primary productivity', 693, 2624, -90, { size: 53, color: '#7cc24a', w: 414 });
</script>
</body>
</html>
